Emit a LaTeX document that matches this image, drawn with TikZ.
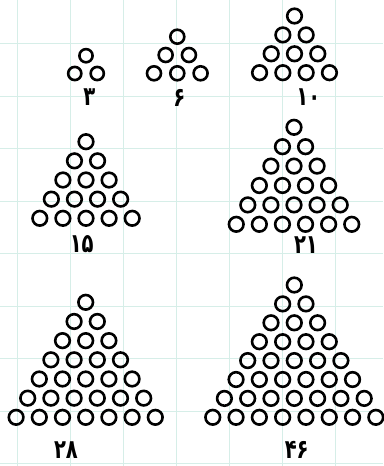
\documentclass[tikz,border=0pt]{standalone}
\usepackage{fontspec}
\newfontfamily\fanum[Script=Arabic]{DejaVu Sans}
\definecolor{gridc}{HTML}{D6EEE8}
\newcommand\mytri[6]{% top x, top y, rows, dx, dy, radius
  \foreach \i in {1,...,#3}{%
    \foreach \j in {1,...,\i}{%
      \draw[ring] ({#1+(\j-(\i+1)/2)*#4},{#2+(\i-1)*#5}) circle[radius=#6pt];
    }%
  }%
}
\newcommand\numlbl[1]{\scalebox{0.85}[1.15]{#1}}
\begin{document}
\begin{tikzpicture}[x=1pt,y=-1pt,
  ring/.style={draw=black,line width=2.6pt},
  gridline/.style={draw=gridc,line width=1pt},
  lbl/.style={font=\fanum\bfseries\fontsize{23}{23}\selectfont,inner sep=0pt,anchor=center}]
\fill[white] (0,0) rectangle (383,466);
\useasboundingbox (0,0) rectangle (383,466);
\foreach \x in {17.5,70.5,123.5,176.5,229.5,282.5,335.5}
  \draw[gridline] (\x,0) -- (\x,466);
\foreach \y in {43.5,96,148.5,201,253.5,306,358.5,411,463.5}
  \draw[gridline] (0,\y) -- (383,\y);
% triangles
\mytri{86}{55.7}{2}{22.5}{17.8}{6.6}
\mytri{177.3}{36.7}{3}{23.3}{18.3}{7.0}
\mytri{294.5}{16}{4}{23.3}{18.9}{7.3}
\mytri{86}{141.7}{5}{23.1}{19.15}{7.3}
\mytri{294}{127.3}{6}{23.1}{19.4}{7.3}
\mytri{85.7}{302.3}{7}{23.2}{19.17}{7.3}
\mytri{294.3}{285}{8}{23.3}{18.9}{7.3}
% labels
\node[lbl] (l3) at (89.3,97.5) {\numlbl{۳}};
\node[lbl] (l6) at (179.3,97.5) {\numlbl{۶}};
\node[lbl] (l10) at (308.3,97.5) {\numlbl{۱۰}};
\node[lbl] (l15) at (81.7,244) {\numlbl{۱۵}};
\node[lbl] (l21) at (306,245) {\numlbl{۲۱}};
\node[lbl] (l28) at (66,450.5) {\numlbl{۲۸}};
\node[lbl] (l46) at (296.7,450) {\numlbl{۴۶}};
\end{tikzpicture}
\end{document}
